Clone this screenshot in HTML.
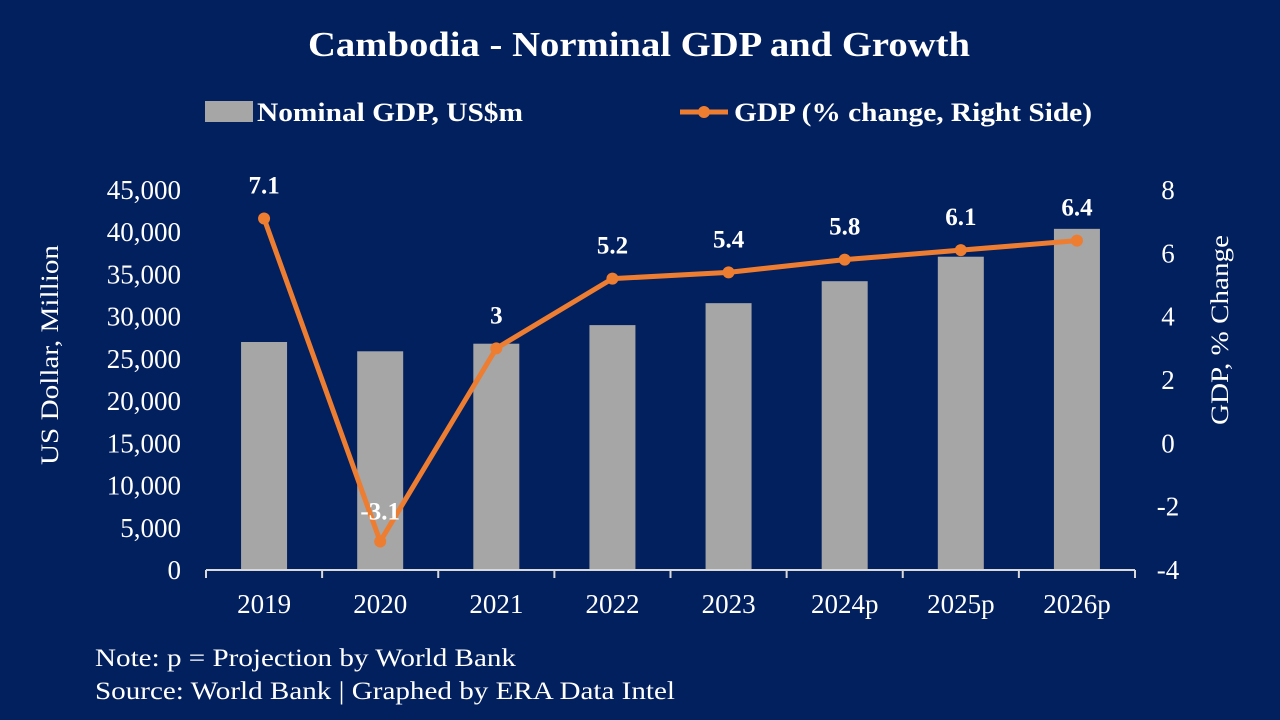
<!DOCTYPE html>
<html><head><meta charset="utf-8">
<style>
body{margin:0;background:#021f5e;}
svg{display:block;font-family:"Liberation Serif",serif;}
</style></head>
<body>
<svg id="chart" width="1280" height="720" viewBox="0 0 1280 720">
<rect width="1280" height="720" fill="#021f5e"/>
<text x="308" y="56" textLength="662" lengthAdjust="spacingAndGlyphs" fill="#fff" font-size="35" font-weight="bold">Cambodia - Norminal GDP and Growth</text>
<g>
<rect x="205" y="101" width="48" height="21" fill="#a6a6a6"/>
<text x="257" y="121" textLength="266" lengthAdjust="spacingAndGlyphs" fill="#fff" font-size="26" font-weight="bold">Nominal GDP, US$m</text>
<line x1="680" y1="112" x2="728" y2="112" stroke="#ed7d31" stroke-width="5"/>
<circle cx="704" cy="112" r="6" fill="#ed7d31"/>
<text x="734" y="121" textLength="358" lengthAdjust="spacingAndGlyphs" fill="#fff" font-size="26" font-weight="bold">GDP (% change, Right Side)</text>
</g>
<text transform="translate(58,465) rotate(-90)" textLength="220" lengthAdjust="spacingAndGlyphs" fill="#fff" font-size="25">US Dollar, Million</text>
<text transform="translate(1228,425) rotate(-90)" textLength="190" lengthAdjust="spacingAndGlyphs" fill="#fff" font-size="25">GDP, % Change</text>
<g id="plot"></g>
<text x="95" y="666" textLength="421" lengthAdjust="spacingAndGlyphs" fill="#fff" font-size="25">Note: p = Projection by World Bank</text>
<text x="95" y="699" textLength="580" lengthAdjust="spacingAndGlyphs" fill="#fff" font-size="25">Source: World Bank | Graphed by ERA Data Intel</text>
</svg>
<script>
const categories=["2019","2020","2021","2022","2023","2024p","2025p","2026p"];
const gdpValues=[27000,25900,26800,29000,31600,34200,37100,40400];
const growthValues=[7.1,-3.1,3,5.2,5.4,5.8,6.1,6.4];
const growthLabels=["7.1","-3.1","3","5.2","5.4","5.8","6.1","6.4"];
const leftTicks=[0,5000,10000,15000,20000,25000,30000,35000,40000,45000];
const rightTicks=[-4,-2,0,2,4,6,8];

const NS="http://www.w3.org/2000/svg";
const g=document.getElementById('plot');
const X0=206,X1=1135,Y0=570,Y1=190;
const bw=(X1-X0)/categories.length;
const xc=i=>X0+bw*(i+0.5);
const yL=v=>Y0-(v/45000)*(Y0-Y1);
const yR=v=>Y0-((v+4)/12)*(Y0-Y1);
function mk(tag,attrs,txt){const e=document.createElementNS(NS,tag);for(const k in attrs)e.setAttribute(k,attrs[k]);if(txt!==undefined)e.textContent=txt;g.appendChild(e);return e;}

leftTicks.forEach(v=>{
 const t=mk('text',{x:181,y:yL(v)+9,'text-anchor':'end',fill:'#fff','font-size':27},v.toLocaleString('en-US'));
 
 
});
rightTicks.forEach(v=>{
 const t=mk('text',{x:1168,y:yR(v)+9,'text-anchor':'middle',fill:'#fff','font-size':27},String(v));
 
 
});
categories.forEach((c,i)=>{
 const b=mk('rect',{x:xc(i)-23,y:yL(gdpValues[i]),width:46,height:Y0-yL(gdpValues[i]),fill:'#a6a6a6'});
 
 
 const t=mk('text',{x:xc(i),y:613,'text-anchor':'middle',fill:'#fff','font-size':27},c);
 
 
});
const ax=mk('line',{x1:X0,y1:Y0,x2:X1,y2:Y0,stroke:'#d9d9d9','stroke-width':2});


for(let i=0;i<=categories.length;i++){
 const tk=mk('line',{x1:X0+bw*i,y1:Y0,x2:X0+bw*i,y2:Y0+8,stroke:'#d9d9d9','stroke-width':2});
 
 
}
const pts=growthValues.map((v,i)=>xc(i)+','+yR(v)).join(' ');
const pl=mk('polyline',{points:pts,fill:'none',stroke:'#ed7d31','stroke-width':5,'stroke-linejoin':'round'});


growthValues.forEach((v,i)=>{
 const c=mk('circle',{cx:xc(i),cy:yR(v),r:6,fill:'#ed7d31'});
 
 
 const ly=v<0?yR(v)-22:yR(v)-25;
 const t=mk('text',{x:xc(i),y:ly,'text-anchor':'middle',fill:'#fff','font-size':25,'font-weight':'bold'},growthLabels[i]);
 
 
});
</script>
</body></html>
